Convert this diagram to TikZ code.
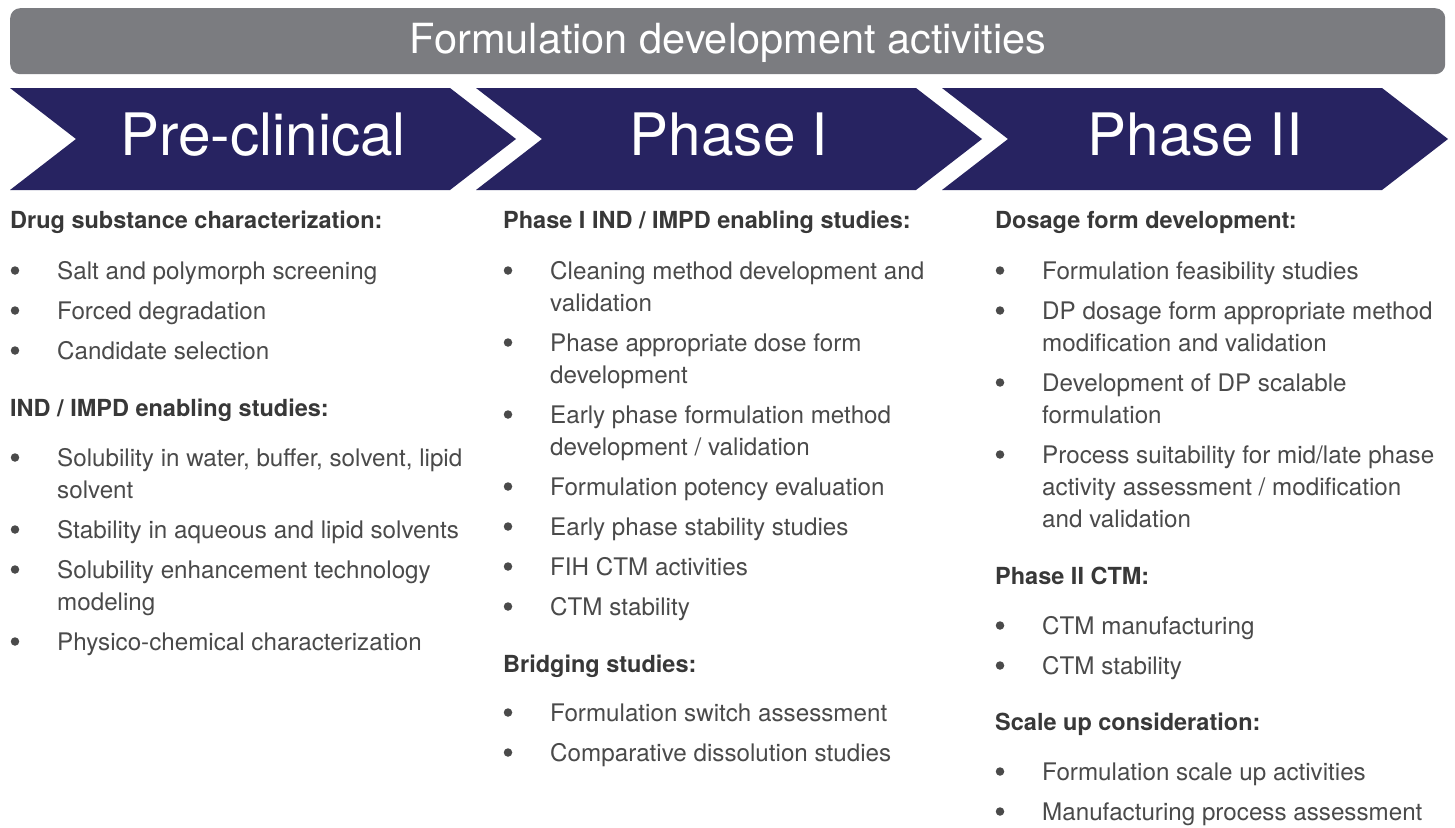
\documentclass[tikz,border=0pt]{standalone}
\usepackage{fontspec}
\setmainfont{TeX Gyre Heros}
\definecolor{navy}{HTML}{272361}
\definecolor{bargray}{HTML}{7B7C80}
\definecolor{txtcol}{HTML}{4A4A4A}
\definecolor{hdcol}{HTML}{383838}
\newcommand{\hdline}[4]{\node[hdtext] (#1) at (#2,#3) {#4};}
\newcommand{\itm}[4]{\node[bul] (#1b) at (#2+5,#3-10.5) {};\node[body] (#1) at (#2+47,#3-2) {#4};}
\newcommand{\cont}[4]{\node[body] (#1) at (#2+47,#3-2) {#4};}
\begin{document}
\begin{tikzpicture}[x=1pt,y=-1pt,
  hdtext/.style={anchor=base west, inner sep=0pt, font=\fontsize{23.5}{28}\selectfont\bfseries, text=hdcol},
  body/.style={anchor=base west, inner sep=0pt, font=\fontsize{24.2}{28}\selectfont, text=txtcol},
  bul/.style={circle, fill=txtcol, inner sep=0pt, minimum size=8.5pt},
  chev/.style={fill=navy},
  phase/.style={anchor=base, inner sep=0pt, text=white, font=\fontsize{58.5}{62}\selectfont},
]
\useasboundingbox (0,0) rectangle (1455,827);
\fill[white] (0,0) rectangle (1455,827);
% header bar
\node[fill=bargray, rounded corners=10pt, minimum width=1435pt, minimum height=66pt, anchor=north west, inner sep=0pt] (bar) at (10,8) {};
\node[anchor=base, inner sep=0pt, text=white, font=\fontsize{41.5}{45}\selectfont] (title) at (728,53) {Formulation development activities};
% chevrons
\fill[chev] (10,88) -- ++(440,0) -- ++(66,51) -- ++(-66,51) -- ++(-440,0) -- ++(66,-51) -- cycle;
\fill[chev] (476,88) -- ++(440,0) -- ++(66,51) -- ++(-66,51) -- ++(-440,0) -- ++(66,-51) -- cycle;
\fill[chev] (942,88) -- ++(440,0) -- ++(66,51) -- ++(-66,51) -- ++(-440,0) -- ++(66,-51) -- cycle;
\node[phase] (pre) at (263,155) {Pre-clinical};
\node[phase] (p1) at (729,155) {Phase I};
\node[phase] (p2) at (1195,155) {Phase II};
% column 1
\hdline{a0}{10}{228}{Drug substance characterization:}
\itm{a1}{10}{281}{Salt and polymorph screening}
\itm{a2}{10}{321}{Forced degradation}
\itm{a3}{10}{361}{Candidate selection}
\hdline{a4}{10}{416}{IND / IMPD enabling studies:}
\itm{a5}{10}{468}{Solubility in water, buffer, solvent, lipid}
\cont{a5c}{10}{500}{solvent}
\itm{a6}{10}{540}{Stability in aqueous and lipid solvents}
\itm{a7}{10}{580}{Solubility enhancement technology}
\cont{a7c}{10}{612}{modeling}
\itm{a8}{10}{652}{Physico-chemical characterization}
% column 2
\hdline{b0}{503}{228}{Phase I IND / IMPD enabling studies:}
\itm{b1}{503}{281}{Cleaning method development and}
\cont{b1c}{503}{313}{validation}
\itm{b2}{503}{353}{Phase appropriate dose form}
\cont{b2c}{503}{385}{development}
\itm{b3}{503}{425}{Early phase formulation method}
\cont{b3c}{503}{457}{development / validation}
\itm{b4}{503}{497}{Formulation potency evaluation}
\itm{b5}{503}{537}{Early phase stability studies}
\itm{b6}{503}{577}{FIH CTM activities}
\itm{b7}{503}{617}{CTM stability}
\hdline{b8}{503}{672}{Bridging studies:}
\itm{b9}{503}{723}{Formulation switch assessment}
\itm{b10}{503}{763}{Comparative dissolution studies}
% column 3
\hdline{c0}{995}{228}{Dosage form development:}
\itm{c1}{995}{281}{Formulation feasibility studies}
\itm{c2}{995}{321}{DP dosage form appropriate method}
\cont{c2c}{995}{353}{modification and validation}
\itm{c3}{995}{393}{Development of DP scalable}
\cont{c3c}{995}{425}{formulation}
\itm{c4}{995}{465}{Process suitability for mid/late phase}
\cont{c4c}{995}{497}{activity assessment / modification}
\cont{c4d}{995}{529}{and validation}
\hdline{c5}{995}{584}{Phase II CTM:}
\itm{c6}{995}{636}{CTM manufacturing}
\itm{c7}{995}{676}{CTM stability}
\hdline{c8}{995}{730}{Scale up consideration:}
\itm{c9}{995}{782}{Formulation scale up activities}
\itm{c10}{995}{822}{Manufacturing process assessment}
\end{tikzpicture}
\end{document}
